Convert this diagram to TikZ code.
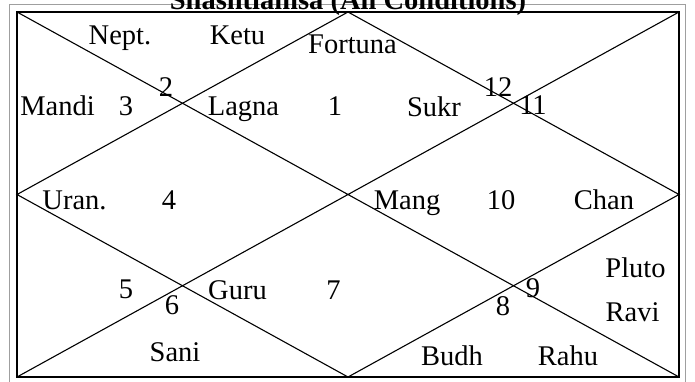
\documentclass[tikz,border=0pt]{standalone}
\usepackage{fontspec}
\setmainfont{Liberation Serif}
\usetikzlibrary{positioning}
\tikzset{
  chart/.style={x=1pt,y=-1pt,line width=1.1pt},
  frame/.style={draw=gray!75,line width=1pt},
  border/.style={draw=black,line width=1.5pt},
  label/.style={font=\fontsize{28.5}{30}\selectfont,inner sep=0pt,anchor=base},
  hnum/.style={label},
  heading/.style={label,font=\fontsize{28.5}{30}\selectfont\bfseries},
}

\begin{document}
\begin{tikzpicture}[chart]
  \useasboundingbox (0,0) rectangle (695,381);
  % corners and midpoints of the chart
  \coordinate (fnw) at (9,4);
  \coordinate (fse) at (685,387);
  \coordinate (nw) at (17,12);
  \coordinate (ne) at (679,12);
  \coordinate (se) at (679,377);
  \coordinate (sw) at (17,377);
  \coordinate (n) at (348,12);
  \coordinate (e) at (679,194.5);
  \coordinate (s) at (348,377);
  \coordinate (w) at (17,194.5);

  \draw[frame] (fnw) rectangle (fse);
  \draw[border] (nw) rectangle (se);
  \draw (nw) -- (se) (ne) -- (sw);
  \draw (n) -- (e) -- (s) -- (w) -- cycle;

  \node[heading] (title) at (348,9.5) {Shashtiamsa (All Conditions)};

  % houses and planets
  \node[label] (nept) at (120,44) {Nept.};
  \node[label] (ketu) at (237.5,44) {Ketu};
  \node[label] (fortuna) at (352.5,53) {Fortuna};
  \node[hnum] (h2) at (166,96) {2};
  \node[hnum] (h12) at (498,96) {12};
  \node[label] (mandi) at (57.5,115) {Mandi};
  \node[hnum] (h3) at (126,115) {3};
  \node[label] (lagna) at (243.5,115) {Lagna};
  \node[hnum] (h1) at (335,115) {1};
  \node[label] (sukr) at (434,116) {Sukr};
  \node[hnum] (h11) at (533,114) {11};
  \node[label] (uran) at (74.5,209) {Uran.};
  \node[hnum] (h4) at (169,209) {4};
  \node[label] (mang) at (407,209) {Mang};
  \node[hnum] (h10) at (501,209) {10};
  \node[label] (chan) at (604,209) {Chan};
  \node[label] (pluto) at (635.5,277) {Pluto};
  \node[hnum] (h5) at (126,298) {5};
  \node[hnum] (h9) at (533,297) {9};
  \node[label] (guru) at (237.5,299) {Guru};
  \node[hnum] (h7) at (333.5,299) {7};
  \node[hnum] (h6) at (172,314) {6};
  \node[hnum] (h8) at (503,315) {8};
  \node[label] (ravi) at (632.5,321) {Ravi};
  \node[label] (sani) at (175,361) {Sani};
  \node[label] (budh) at (452,365) {Budh};
  \node[label] (rahu) at (568,365) {Rahu};
\end{tikzpicture}
\end{document}
